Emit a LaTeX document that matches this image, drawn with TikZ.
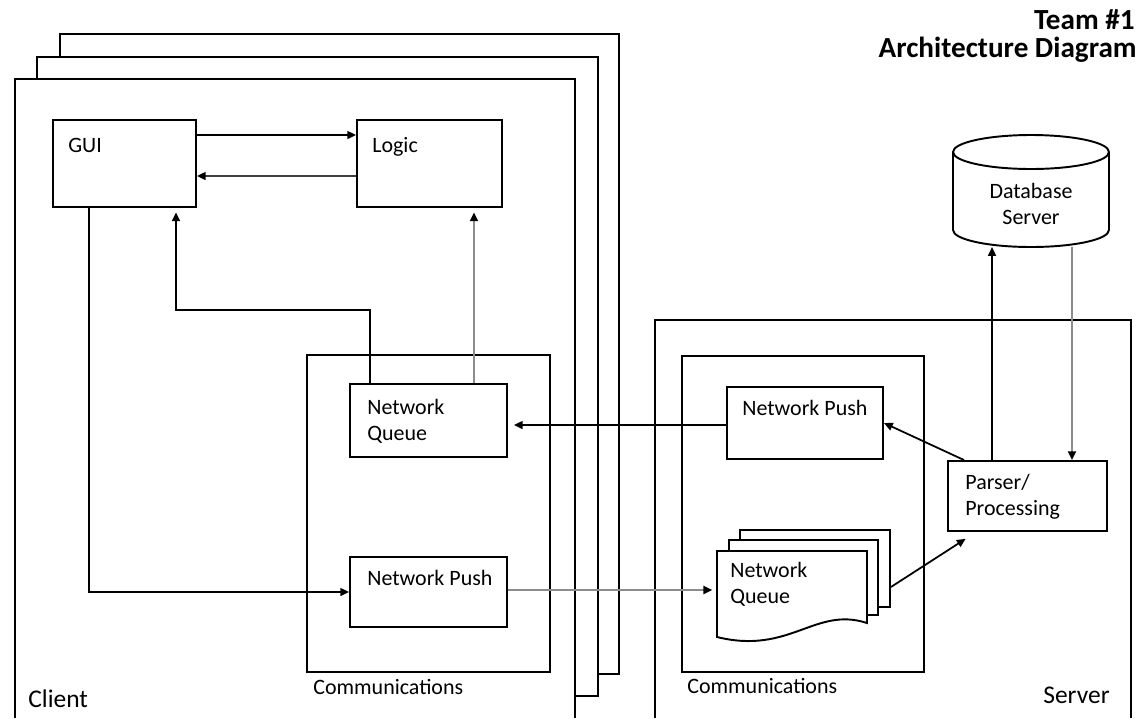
\documentclass[tikz,border=0pt]{standalone}
\usepackage{fontspec}
\setmainfont{Carlito}
\usepackage{tikz}
\usetikzlibrary{arrows.meta, calc}

\begin{document}
\begin{tikzpicture}[x=0.02cm, y=-0.02cm,
  frame/.style={draw, line width=1.1pt, fill=white},
  box/.style={draw, line width=1.1pt, fill=white, inner sep=0pt},
  txt/.style={inner sep=0pt, align=left, anchor=base west, font=\fontsize{12.5}{14.7}\selectfont},
  big/.style={inner sep=0pt, font=\fontsize{14.5}{17}\selectfont},
  title/.style={inner sep=0pt, anchor=base east, font=\fontsize{16.6}{19}\selectfont\bfseries},
  arr/.style={line width=1pt, -{Triangle[length=5pt, width=4.5pt, black]}},
  lite/.style={draw=black!45, line width=1.2pt}
]
\useasboundingbox (0,0) rectangle (1139,718);

% client stack
\draw[frame] (60,34) rectangle (619,674);
\draw[frame] (37,57) rectangle (598,696);
\draw[frame] (15,718) |- (575,79) -- (575,718);
\draw[frame] (307,355) rectangle (550,672);

% server
\draw[frame] (655,718) |- (1131,320) -- (1131,718);
\draw[frame] (682,356) rectangle (924,672);

% database cylinder
\draw[frame] (953,152) -- (953,230) arc[start angle=180, end angle=360, x radius=1.56cm, y radius=0.34cm] -- (1109,152);
\draw[line width=1.1pt] (1031,152) ellipse [x radius=1.56cm, y radius=0.34cm];
\coordinate (dbbase) at (1031,247);

\node[box, minimum width=2.86cm, minimum height=1.74cm] (gui) at (124.5,163.5) {};
\node[box, minimum width=2.9cm, minimum height=1.74cm] (logic) at (429.5,163.5) {};
\node[box, minimum width=3.14cm, minimum height=1.46cm] (cnq) at (428.5,420.5) {};
\node[box, minimum width=3.14cm, minimum height=1.4cm] (cnp) at (428.5,592) {};
\node[box, minimum width=3.12cm, minimum height=1.44cm] (snp) at (805,423) {};
\node[box, minimum width=3.18cm, minimum height=1.4cm] (parser) at (1027.5,496) {};

% queue sheets
\node[box, minimum width=3cm, minimum height=1.54cm] (snq3) at (815,568.5) {};
\node[box, minimum width=2.98cm, minimum height=1.5cm] (snq2) at (803.5,577.5) {};
\draw[line width=1.1pt, fill=white] (717,551) -- (867,551) -- (867,623)
  .. controls (815,606) and (790,655) .. (717,637) -- cycle;
\node[inner sep=0pt, minimum width=3cm, minimum height=1.56cm] (snq) at (792,590) {};

% labels (base = last line)
\node[txt] (gui-t) at (68,152) {GUI};
\node[txt] (logic-t) at (372,152) {Logic};
\node[txt] (cnq-t) at (367,440) {Network\\Queue};
\node[txt] (cnp-t) at (367,585) {Network Push};
\node[txt] (snp-t) at (742,415) {Network Push};
\node[txt] (parser-t) at (965,515) {Parser/\\Processing};
\node[txt] (snq-t) at (730,603) {Network\\Queue};
\node[txt, align=center, anchor=base] (db-t) at (1031,224) {Database\\Server};
\node[txt] (ccomm-t) at (313,694) {Communications};
\node[txt] (scomm-t) at (687,693) {Communications};
\node[big, anchor=base west] (client-t) at (28,707) {Client};
\node[big, anchor=base east] (server-t) at (1110,703) {Server};
\node[title] (team-t) at (1135,29) {Team \#1};
\node[title] (arch-t) at (1137,57) {Architecture Diagram};

% connectors
\draw[arr] (gui.east |- 0,135) -- (logic.west |- 0,135);
\draw[arr, draw=black!75] (logic.west |- 0,176) -- (gui.east |- 0,176);
\draw[arr] (gui.south -| 89,0) |- (cnp.west);
\draw[arr, shorten >=2.5pt] (cnq.north -| 370,0) |- (176,310) -- (gui.south -| 176,0);
\draw[arr, lite, shorten >=2.5pt] (cnq.north -| 474,0) -- (logic.south -| 474,0);
\draw[arr, shorten >=3.4pt] (snp.west |- 0,425) -- (cnq.east |- 0,425);
\draw[arr, lite, shorten >=2.5pt] (cnp.east |- snq.west) -- (snq.west);
\draw[arr, shorten >=3pt] (snq3.east |- 0,587) -- ($(parser.south west)+(23,4)$);
\draw[arr] ($(parser.north west)+(17,0)$) -- (snp.east);
\draw[arr] (parser.north -| 992,0) -- (dbbase -| 992,0);
\draw[arr, lite] (dbbase -| 1072,0) -- (parser.north -| 1072,0);
\end{tikzpicture}
\end{document}
